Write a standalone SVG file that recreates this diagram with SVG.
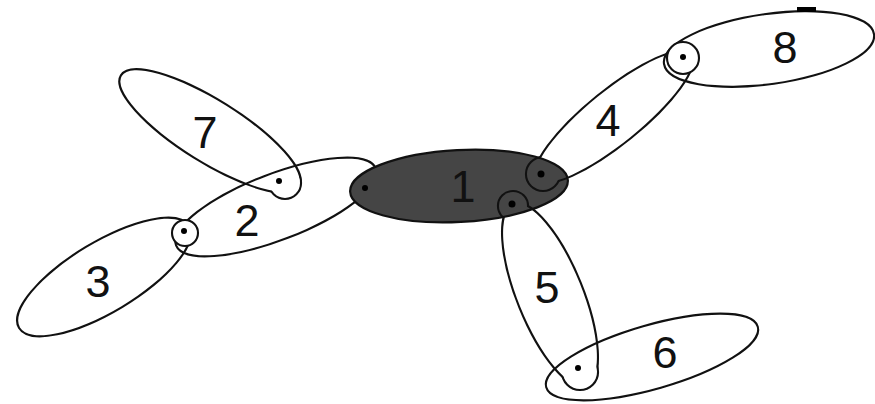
<svg xmlns="http://www.w3.org/2000/svg" width="875" height="404" viewBox="0 0 875 404">
<style>
.halo{fill:#fff;stroke:#fff;stroke-width:4.2}
.hole{fill:#000;stroke:none}
.ink{fill:#111}
.ring{fill:none;stroke:#111;stroke-width:2.1}
.core{fill:#454545;stroke:#111;stroke-width:2.2}
.dot{fill:#000}
.lbl{font-family:"Liberation Sans",Arial,sans-serif;font-size:45px;fill:#111;text-anchor:middle}
</style>
<defs>
  <g id="s7"><ellipse cx="210" cy="131" rx="104" ry="30" transform="rotate(32 210 131)"/><circle cx="285" cy="183" r="15"/></g>
  <g id="s2"><ellipse cx="276" cy="207" rx="106" ry="32" transform="rotate(-21 276 207)"/></g>
  <g id="s3"><ellipse cx="104" cy="277" rx="98" ry="34" transform="rotate(-31 104 277)"/></g>
  <g id="s4"><ellipse cx="614" cy="117" rx="98" ry="26" transform="rotate(-39 614 117)"/><circle cx="543" cy="174" r="16"/></g>
  <g id="s8"><ellipse cx="769" cy="49" rx="105" ry="34" transform="rotate(-8 769 49)"/></g>
  <g id="s5"><ellipse cx="550" cy="295" rx="97" ry="32" transform="rotate(68 550 295)"/><circle cx="513" cy="206" r="14"/><circle cx="580" cy="372" r="17"/></g>
  <g id="s6"><ellipse cx="652" cy="357" rx="109" ry="31" transform="rotate(-16 652 357)"/></g>
  <mask id="m7" maskUnits="userSpaceOnUse" x="0" y="0" width="875" height="404"><use href="#s7" class="halo"/><use href="#s7" class="hole"/></mask>
  <mask id="m2" maskUnits="userSpaceOnUse" x="0" y="0" width="875" height="404"><use href="#s2" class="halo"/><use href="#s2" class="hole"/><circle class="hole" cx="185" cy="233" r="13"/></mask>
  <mask id="m3" maskUnits="userSpaceOnUse" x="0" y="0" width="875" height="404"><use href="#s3" class="halo"/><use href="#s3" class="hole"/><circle class="hole" cx="185" cy="233" r="13"/></mask>
  <mask id="m4" maskUnits="userSpaceOnUse" x="0" y="0" width="875" height="404"><use href="#s4" class="halo"/><use href="#s4" class="hole"/><circle class="hole" cx="683" cy="58" r="16"/></mask>
  <mask id="m8" maskUnits="userSpaceOnUse" x="0" y="0" width="875" height="404"><use href="#s8" class="halo"/><use href="#s8" class="hole"/><circle class="hole" cx="683" cy="58" r="16"/></mask>
  <mask id="m5" maskUnits="userSpaceOnUse" x="0" y="0" width="875" height="404"><use href="#s5" class="halo"/><use href="#s5" class="hole"/></mask>
  <mask id="m6" maskUnits="userSpaceOnUse" x="0" y="0" width="875" height="404"><use href="#s6" class="halo"/><use href="#s6" class="hole"/></mask>
</defs>
<rect width="875" height="404" fill="#fff"/>
<g id="connectors"></g>
<g id="n2"><rect class="ink" width="875" height="404" mask="url(#m2)"/>
  <text class="lbl" x="247" y="236">2</text></g>
<g id="n7"><rect class="ink" width="875" height="404" mask="url(#m7)"/>
  <text class="lbl" x="205" y="148">7</text></g>
<g id="n3"><rect class="ink" width="875" height="404" mask="url(#m3)"/>
  <circle class="ring" cx="185" cy="233" r="13"/>
  <text class="lbl" x="98" y="297">3</text></g>
<g id="n1"><ellipse class="core" cx="459" cy="186" rx="109" ry="36" transform="rotate(-3 459 186)"/>
  <text class="lbl" x="463" y="202">1</text></g>
<g id="n4"><rect class="ink" width="875" height="404" mask="url(#m4)"/>
  <circle class="ring" cx="683" cy="58" r="16"/>
  <text class="lbl" x="608" y="136">4</text></g>
<g id="n8"><rect class="ink" width="875" height="404" mask="url(#m8)"/>
  <rect x="797" y="7" width="19" height="5" fill="#000"/>
  <text class="lbl" x="785" y="63">8</text></g>
<g id="n5"><rect class="ink" width="875" height="404" mask="url(#m5)"/>
  <text class="lbl" x="547" y="303">5</text></g>
<g id="n6"><rect class="ink" width="875" height="404" mask="url(#m6)"/>
  <text class="lbl" x="665" y="368">6</text></g>
<g id="vertices">
  <circle class="dot" cx="365" cy="188" r="3"/>
  <circle class="dot" cx="541" cy="174" r="3.5"/>
  <circle class="dot" cx="512" cy="204" r="3.5"/>
  <circle class="dot" cx="279" cy="181" r="3"/>
  <circle class="dot" cx="184" cy="231" r="3"/>
  <circle class="dot" cx="683" cy="57" r="3"/>
  <circle class="dot" cx="578" cy="368" r="3"/>
</g>
</svg>
